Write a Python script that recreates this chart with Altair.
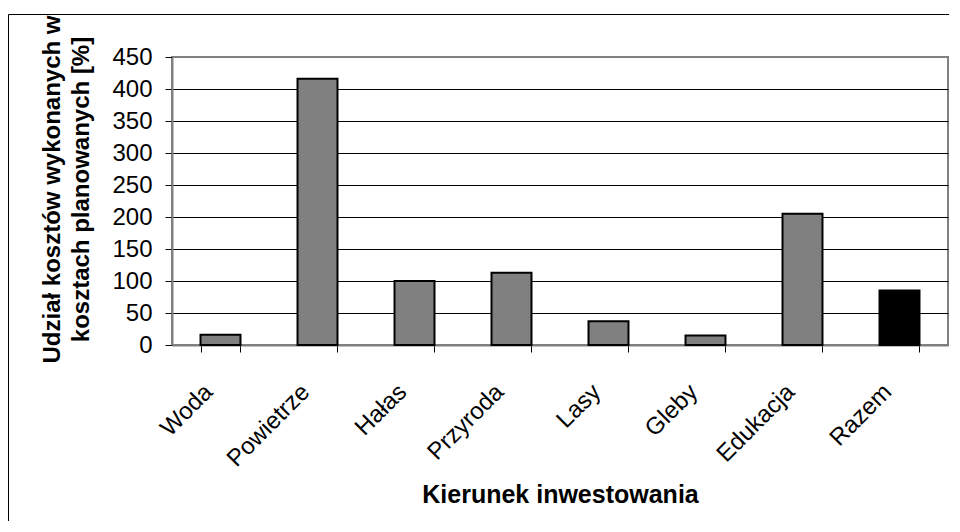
import altair as alt
import pandas as pd

kategorie = ["Woda", "Powietrze", "Hałas", "Przyroda", "Lasy", "Gleby", "Edukacja", "Razem"]
udzial = [16, 416, 100, 113, 37, 15, 205, 85]
y_ticks = [0, 50, 100, 150, 200, 250, 300, 350, 400, 450]

df = pd.DataFrame({"kategoria": kategorie, "udzial": udzial})

FONT = "Liberation Sans"
W, H = 776, 288
PAD = {"left": 164, "top": 49, "right": 4, "bottom": 179}

bars = alt.Chart(df).mark_bar(stroke="black", strokeWidth=2).encode(
    x=alt.X(
        "kategoria:N",
        sort=kategorie,
        scale=alt.Scale(paddingInner=0.588, paddingOuter=0.294),
        axis=alt.Axis(
            title="Kierunek inwestowania",
            titleFont=FONT,
            titleFontSize=25,
            titleFontWeight="bold",
            titleColor="black",
            titleX=W / 2,
            titleY=157,
            titleBaseline="alphabetic",
            titleAlign="center",
            labelFont=FONT,
            labelFontSize=24,
            labelColor="black",
            labelAngle=-45,
            labelAlign="right",
            labelBaseline="middle",
            labelOffset=-12,
            labelPadding=36,
            tickBand="extent",
            tickSize=7,
            tickColor="black",
            domainColor="#808080",
            domainWidth=2,
        ),
    ),
    y=alt.Y(
        "udzial:Q",
        scale=alt.Scale(domain=[0, 450], nice=False),
        axis=alt.Axis(
            title=["Udział kosztów wykonanych w", "kosztach planowanych [%]"],
            titleFont=FONT,
            titleFontSize=24,
            titleFontWeight="bold",
            titleColor="black",
            titleAngle=-90,
            titleX=-113,
            titleY=132,
            titleAlign="center",
            titleBaseline="alphabetic",
            titleLineHeight=29,
            values=y_ticks,
            labelFont=FONT,
            labelFontSize=24,
            labelColor="black",
            labelPadding=13,
            tickSize=7,
            tickColor="black",
            domainColor="#808080",
            domainWidth=2,
            grid=True,
            gridColor=alt.condition("datum.value === 450", alt.value("#808080"), alt.value("black")),
            gridWidth=1,
        ),
    ),
    color=alt.condition(alt.datum.kategoria == "Razem", alt.value("black"), alt.value("#808080")),
)

# outer chart frame (top and left edges; right/bottom lie outside the picture)
right_edge = W + PAD["right"] - 3
bottom_edge = H + PAD["bottom"] - 3
frame_data = alt.Data(values=[{}])
frame_top = alt.Chart(frame_data).mark_rule(color="black", strokeWidth=1).encode(
    x=alt.value(-163.5),
    x2=alt.value(right_edge),
    y=alt.value(-42.5),
)
frame_left = alt.Chart(frame_data).mark_rule(color="black", strokeWidth=1).encode(
    x=alt.value(-163.5),
    y=alt.value(-42.5),
    y2=alt.value(bottom_edge),
)

chart = alt.layer(frame_top, frame_left, bars).properties(
    width=W,
    height=H,
    autosize=alt.AutoSizeParams(type="none"),
    padding=PAD,
    background="white",
).configure_view(stroke="#808080", strokeWidth=2)

chart.save("out.html", embed_options={"renderer": "svg", "actions": False})
